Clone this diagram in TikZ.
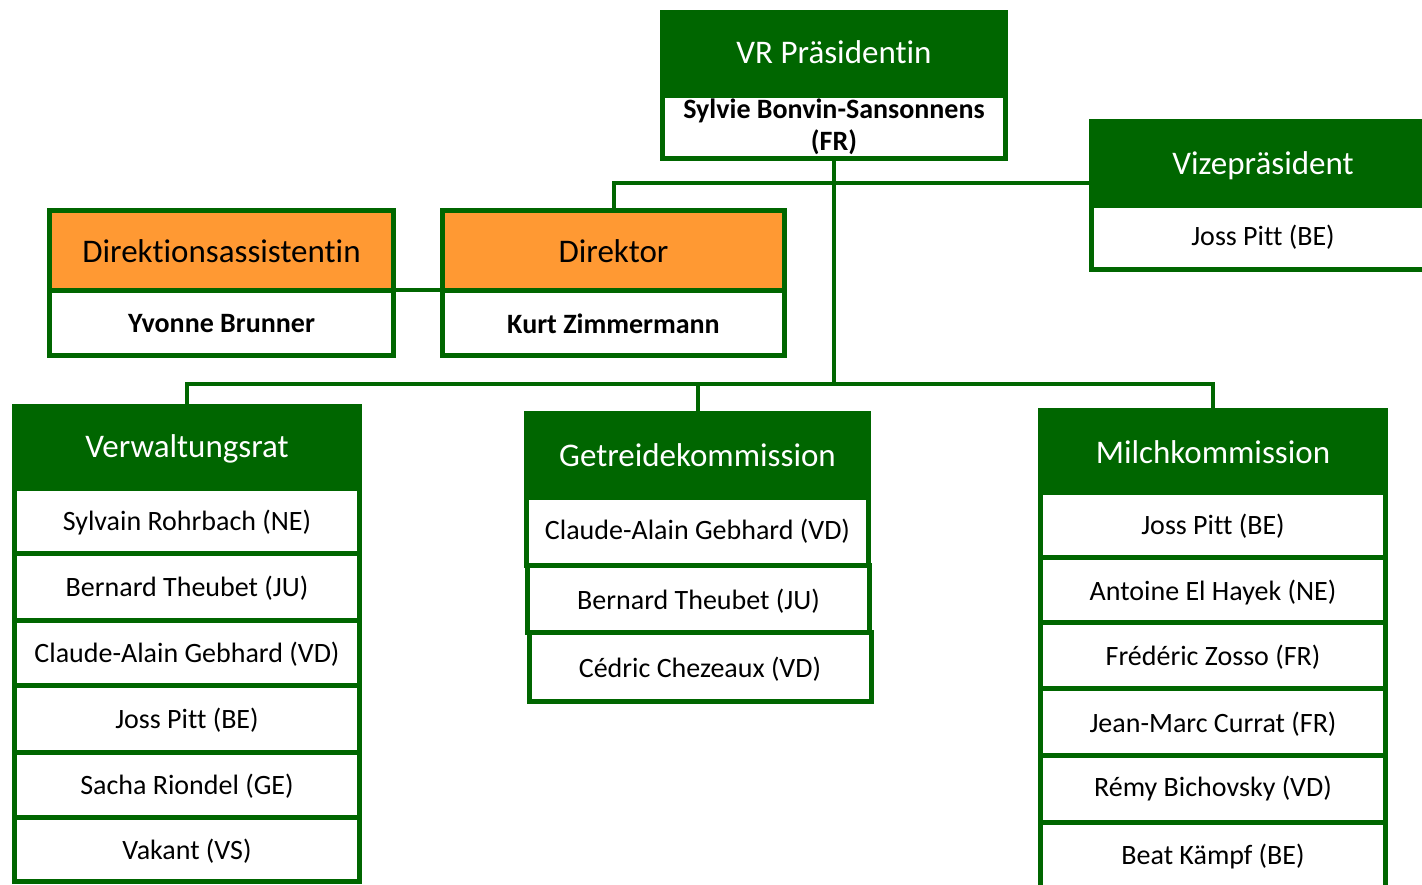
\documentclass[tikz,border=0pt]{standalone}
\usepackage{fontspec}
\setmainfont{Carlito}[Ligatures=CommonOff]
\definecolor{dgreen}{RGB}{0,102,0}
\definecolor{orng}{RGB}{255,153,51}
\tikzset{
  box/.style={draw=dgreen, line width=5pt, inner sep=0pt, outer sep=0pt, align=center},
  ghdr/.style={box, fill=dgreen, text=white, font=\fontsize{33}{38}\selectfont},
  ohdr/.style={box, fill=orng, text=black, font=\fontsize{33}{38}\selectfont},
  row/.style={box, fill=white, text=black, font=\fontsize{28}{32}\selectfont},
  brow/.style={row, font=\fontsize{28}{32}\selectfont\bfseries},
  conn/.style={draw=dgreen, line width=4pt},
}
\newcommand{\lowered}[2][2pt]{\raisebox{-#1}[\height][\depth]{#2}}
\begin{document}
\begin{tikzpicture}[x=1pt,y=-1pt]
\clip (0,0) rectangle (1422,884);
\fill[white] (0,0) rectangle (1422,884);

\coordinate (bus) at (834,384);
\coordinate (bus2) at (834,183);

% VR Praesidentin
\node[ghdr, minimum width=343pt, minimum height=82.5pt] (vrh) at (834,53.75) {\lowered[-2pt]{VR Präsidentin}};
\node[brow, minimum width=343pt, minimum height=63.5pt] (vrb) at (834,126.75) {Sylvie Bonvin-Sansonnens\\(FR)};

% Vizepraesident
\node[ghdr, minimum width=343pt, minimum height=83.5pt] (vzh) at (1263,163.25) {\lowered{Vizepräsident}};
\node[row, minimum width=343pt, minimum height=64.5pt] (vzb) at (1263,237.25) {Joss Pitt (BE)};

% Direktionsassistentin
\node[ohdr, minimum width=344pt, minimum height=79.5pt] (dah) at (221.5,250.25) {\lowered[1pt]{Direktionsassistentin}};
\node[brow, minimum width=344pt, minimum height=65.5pt] (dab) at (221.5,322.75) {\lowered[1pt]{Yvonne Brunner}};

% Direktor
\node[ohdr, minimum width=342pt, minimum height=79.5pt] (dih) at (613.5,250.25) {\lowered[1pt]{Direktor}};
\node[brow, minimum width=342pt, minimum height=65.5pt] (dib) at (613.5,322.75) {\lowered[1pt]{Kurt Zimmermann}};

% Verwaltungsrat
\node[ghdr, minimum width=345pt, minimum height=81.5pt] (vwh) at (187,447.25) {\lowered{Verwaltungsrat}};
\node[row, minimum width=345pt, minimum height=65pt] (vw1) at (187,520.5) {\lowered{Sylvain Rohrbach (NE)}};
\node[row, minimum width=345pt, minimum height=67pt] (vw2) at (187,586.5) {\lowered{Bernard Theubet (JU)}};
\node[row, minimum width=345pt, minimum height=65pt] (vw3) at (187,652.5) {\lowered{Claude-Alain Gebhard (VD)}};
\node[row, minimum width=345pt, minimum height=67pt] (vw4) at (187,718.5) {\lowered{Joss Pitt (BE)}};
\node[row, minimum width=345pt, minimum height=65pt] (vw5) at (187,784.5) {\lowered{Sacha Riondel (GE)}};
\node[row, minimum width=345pt, minimum height=64.5pt] (vw6) at (187,849.25) {\lowered{Vakant (VS)}};

% Getreidekommission
\node[ghdr, minimum width=342pt, minimum height=83.5pt] (gkh) at (697.5,455.25) {Getreidekommission};
\node[row, minimum width=342pt, minimum height=68pt] (gk1) at (697.5,531) {Claude-Alain Gebhard (VD)};
\node[row, minimum width=342pt, minimum height=67pt] (gk2) at (698.5,598.5) {\lowered[3pt]{Bernard Theubet (JU)}};
\node[row, minimum width=342pt, minimum height=69pt] (gk3) at (700,666.5) {\lowered[3pt]{Cédric Chezeaux (VD)}};

% Milchkommission
\node[ghdr, minimum width=345pt, minimum height=81.5pt] (mkh) at (1213,451.25) {\lowered[1pt]{Milchkommission}};
\node[row, minimum width=345pt, minimum height=65pt] (mk1) at (1213,524.5) {\lowered{Joss Pitt (BE)}};
\node[row, minimum width=345pt, minimum height=65pt] (mk2) at (1213,589.5) {\lowered[3pt]{Antoine El Hayek (NE)}};
\node[row, minimum width=345pt, minimum height=66pt] (mk3) at (1213,655) {\lowered{Frédéric Zosso (FR)}};
\node[row, minimum width=345pt, minimum height=67pt] (mk4) at (1213,721.5) {\lowered[3pt]{Jean-Marc Currat (FR)}};
\node[row, minimum width=345pt, minimum height=67pt] (mk5) at (1213,788.5) {Rémy Bichovsky (VD)};
\node[row, minimum width=345pt, minimum height=70pt] (mk6) at (1213,857) {Beat Kämpf (BE)};

% connectors
\draw[conn] (vrb.south) -- (bus);
\draw[conn] (vwh.north) |- (bus) -| (mkh.north);
\draw[conn] (gkh.north) -- (gkh.north |- bus);
\draw[conn] (dih.north) |- (bus2) -- (bus2 -| vzh.west);
\draw[conn] (dah.south east) -- (dih.south west);
\end{tikzpicture}
\end{document}
